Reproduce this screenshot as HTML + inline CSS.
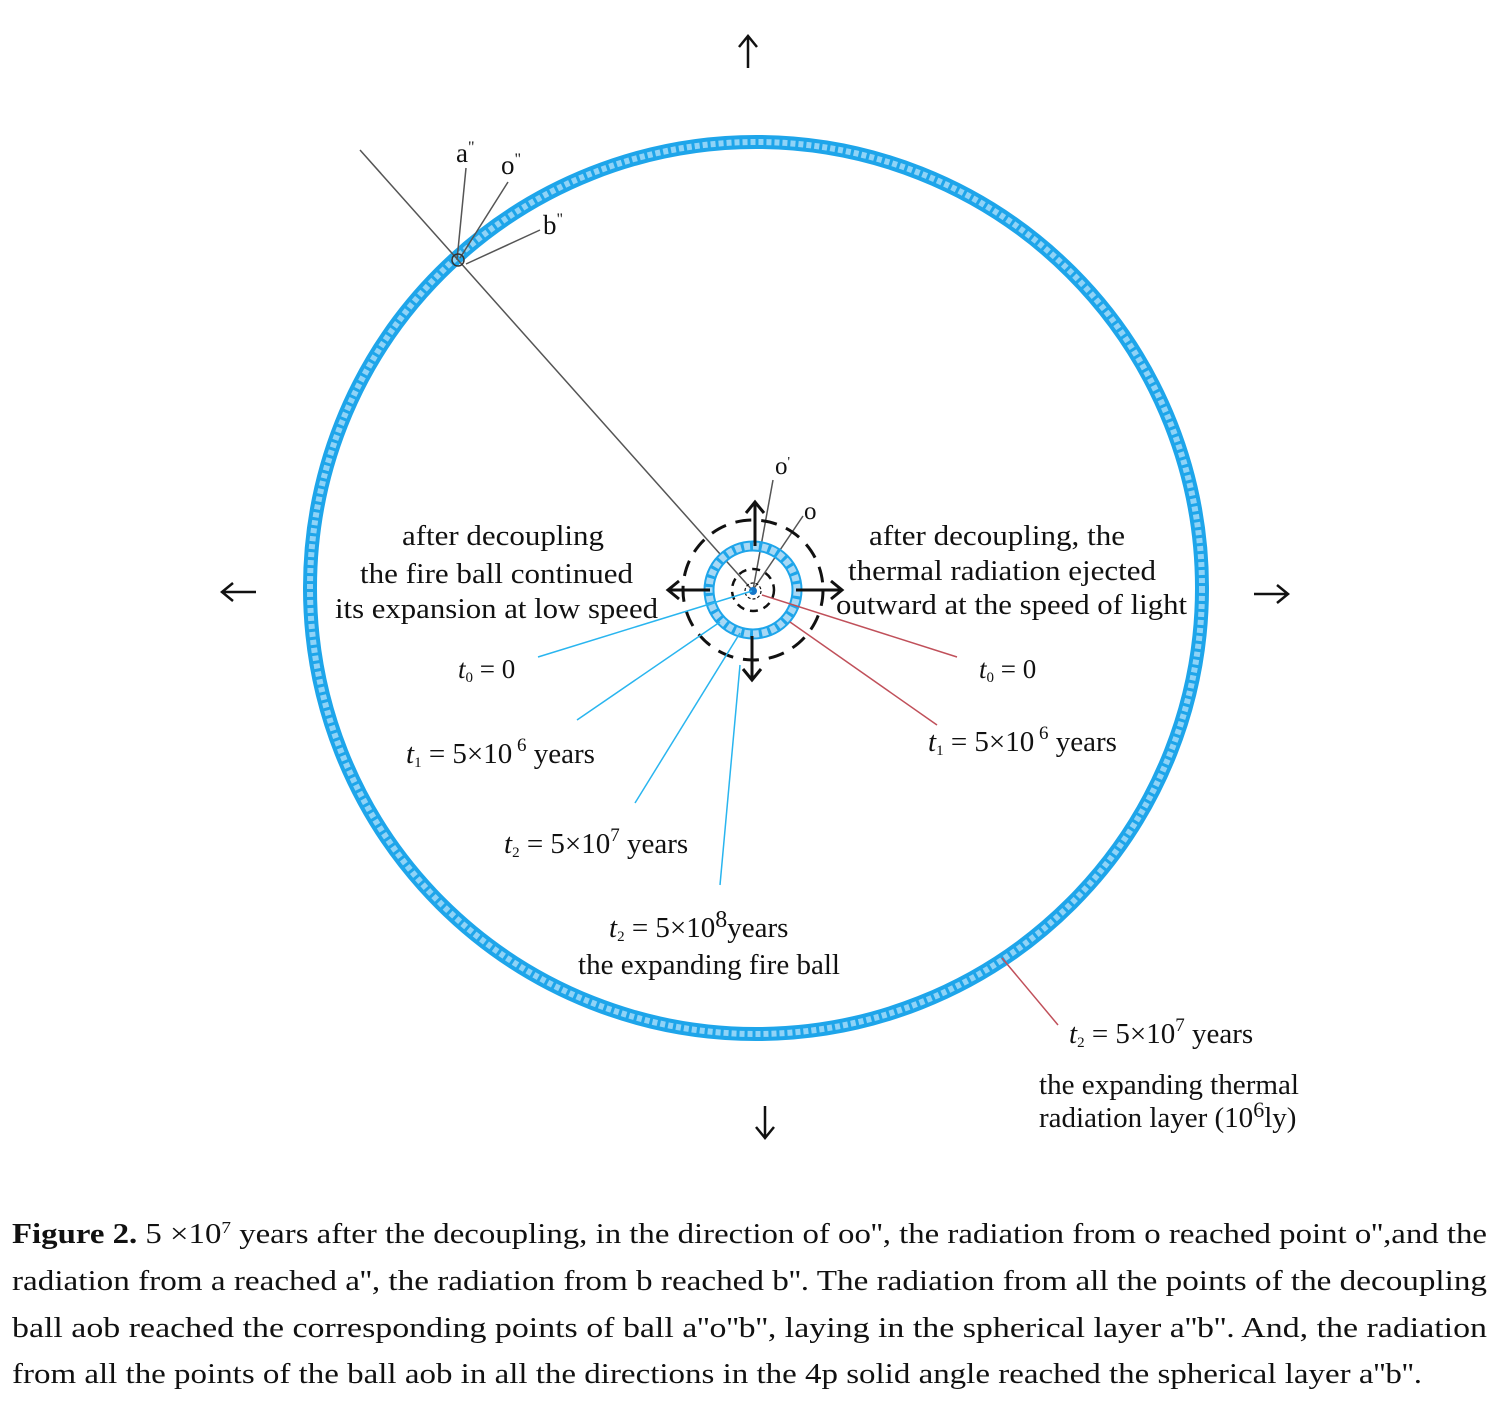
<!DOCTYPE html>
<html><head><meta charset="utf-8"><style>
html,body{margin:0;padding:0;background:#fff}
svg{display:block}
text{font-family:"Liberation Serif",serif;fill:#111}
</style></head><body>
<svg width="1508" height="1411" viewBox="0 0 1508 1411" xmlns="http://www.w3.org/2000/svg">
<!-- big ring -->
<ellipse cx="756" cy="588" rx="446" ry="446" fill="none" stroke="#1ea5ea" stroke-width="14"/>
<ellipse cx="756" cy="588" rx="446" ry="446" fill="none" stroke="#8fd3f7" stroke-width="6" stroke-dasharray="5 3"/>
<!-- outer arrows -->
<g stroke="#111" stroke-width="2.5" fill="none">
<path d="M748 68 V36 M739 47 L748 36 L757 47"/>
<path d="M765 1106 V1138 M756 1127 L765 1138 L774 1127"/>
<path d="M256 592 H222 M233 583 L222 592 L233 601"/>
<path d="M1254 594 H1288 M1277 585 L1288 594 L1277 603"/>
</g>
<line x1="360" y1="150" x2="753" y2="591" stroke="#555" stroke-width="1.5"/>
<line x1="457" y1="260" x2="466" y2="168" stroke="#555" stroke-width="1.5"/>
<line x1="460" y1="258" x2="508" y2="182" stroke="#555" stroke-width="1.5"/>
<line x1="466" y1="264" x2="540" y2="230" stroke="#555" stroke-width="1.5"/>
<circle cx="458" cy="260" r="6" fill="none" stroke="#333" stroke-width="1.5"/>
<text x="456" y="162" font-size="27">a<tspan font-size="16" dy="-10">"</tspan></text>
<text x="501" y="174" font-size="27">o<tspan font-size="16" dy="-10">"</tspan></text>
<text x="543" y="234" font-size="27">b<tspan font-size="16" dy="-10">"</tspan></text>
<!-- center -->
<line x1="753" y1="590" x2="773" y2="480" stroke="#555" stroke-width="1.5"/>
<line x1="753" y1="590" x2="803" y2="516" stroke="#555" stroke-width="1.5"/>
<text x="775" y="474" font-size="25">o<tspan font-size="14" dy="-8">'</tspan></text>
<text x="804" y="519" font-size="25">o</text>
<circle cx="753" cy="590" r="70" fill="none" stroke="#111" stroke-width="3" stroke-dasharray="16 10"/>
<circle cx="753" cy="590" r="44" fill="none" stroke="#1ea5ea" stroke-width="11"/>
<circle cx="753" cy="590" r="44" fill="none" stroke="#a7d8f5" stroke-width="7" stroke-dasharray="6 3"/>
<circle cx="753" cy="590" r="21" fill="none" stroke="#111" stroke-width="2.5" stroke-dasharray="8 6"/>
<circle cx="753" cy="591" r="8" fill="none" stroke="#111" stroke-width="1.2" stroke-dasharray="3 2"/>
<circle cx="753" cy="591" r="4" fill="#1577c9"/>
<g stroke="#111" stroke-width="3" fill="none">
<path d="M755 546 V502 M746 513 L755 502 L764 513"/>
<path d="M752 636 V680 M743 669 L752 680 L761 669"/>
<path d="M710 590 H668 M679 581 L668 590 L679 599"/>
<path d="M796 590 H842 M831 581 L842 590 L831 599"/>
</g>
<g stroke="#29b5ef" stroke-width="1.5">
<line x1="752" y1="591" x2="538" y2="657"/>
<line x1="720" y1="622" x2="577" y2="720"/>
<line x1="740" y1="633" x2="635" y2="803"/>
<line x1="740" y1="665" x2="720" y2="885"/>
</g>
<g stroke="#c0505a" stroke-width="1.5">
<line x1="762" y1="595" x2="957" y2="657"/>
<line x1="790" y1="622" x2="937" y2="725"/>
<line x1="1002" y1="958" x2="1058" y2="1025"/>
</g>
<g font-size="29">
<text x="402" y="545" textLength="202" lengthAdjust="spacingAndGlyphs">after decoupling</text>
<text x="360" y="583" textLength="273" lengthAdjust="spacingAndGlyphs">the fire ball continued</text>
<text x="335" y="618" textLength="323" lengthAdjust="spacingAndGlyphs">its expansion at low speed</text>
<text x="869" y="545" textLength="256" lengthAdjust="spacingAndGlyphs">after decoupling, the</text>
<text x="848" y="580" textLength="308" lengthAdjust="spacingAndGlyphs">thermal radiation ejected</text>
<text x="836" y="614" textLength="351" lengthAdjust="spacingAndGlyphs">outward at the speed of light</text>
<text x="458" y="678" font-family="Liberation Sans" font-size="27"><tspan font-style="italic">t</tspan><tspan font-size="15" dy="4">0</tspan><tspan dy="-4"> = 0</tspan></text>
<text x="979" y="678" font-family="Liberation Sans" font-size="27"><tspan font-style="italic">t</tspan><tspan font-size="15" dy="4">0</tspan><tspan dy="-4"> = 0</tspan></text>
<text x="406" y="763"><tspan font-style="italic">t</tspan><tspan font-size="15" dy="4">1</tspan><tspan dy="-4"> = 5×10</tspan><tspan font-size="19" dy="-12"> 6</tspan><tspan dy="12"> years</tspan></text>
<text x="928" y="751"><tspan font-style="italic">t</tspan><tspan font-size="15" dy="4">1</tspan><tspan dy="-4"> = 5×10</tspan><tspan font-size="19" dy="-12"> 6</tspan><tspan dy="12"> years</tspan></text>
<text x="504" y="853"><tspan font-style="italic">t</tspan><tspan font-size="15" dy="4">2</tspan><tspan dy="-4">  = 5×10</tspan><tspan font-size="19" dy="-12">7</tspan><tspan dy="12"> years</tspan></text>
<text x="609" y="937"><tspan font-style="italic">t</tspan><tspan font-size="15" dy="4">2</tspan><tspan dy="-4">  = 5×10</tspan><tspan font-size="24" dy="-10">8</tspan><tspan dy="10">years</tspan></text>
<text x="578" y="974" textLength="262" lengthAdjust="spacingAndGlyphs">the expanding fire ball</text>
<text x="1069" y="1043"><tspan font-style="italic">t</tspan><tspan font-size="15" dy="4">2</tspan><tspan dy="-4">  = 5×10</tspan><tspan font-size="19" dy="-12">7</tspan><tspan dy="12"> years</tspan></text>
<text x="1039" y="1094" textLength="260" lengthAdjust="spacingAndGlyphs">the expanding thermal</text>
<text x="1039" y="1127">radiation layer (10<tspan font-size="22" dy="-10">6</tspan><tspan dy="10">ly)</tspan></text>
</g>
<g font-size="29">
<text x="12" y="1243" textLength="1475" lengthAdjust="spacingAndGlyphs"><tspan font-weight="bold">Figure 2.</tspan> 5 ×10<tspan font-size="17" dy="-10">7</tspan><tspan dy="10"> years after the decoupling, in the direction of oo'', the radiation from o reached point o'',and the</tspan></text>
<text x="12" y="1290" textLength="1475" lengthAdjust="spacingAndGlyphs">radiation from a reached a'', the radiation from b reached b''. The radiation from all the points of the decoupling</text>
<text x="12" y="1337" textLength="1475" lengthAdjust="spacingAndGlyphs">ball aob reached the corresponding points of ball a''o''b'', laying in the spherical layer a''b''. And, the radiation</text>
<text x="12" y="1383" textLength="1410" lengthAdjust="spacingAndGlyphs">from all the points of the ball aob in all the directions in the 4p solid angle reached the spherical layer a''b''.</text>
</g>
</svg>
</body></html>
